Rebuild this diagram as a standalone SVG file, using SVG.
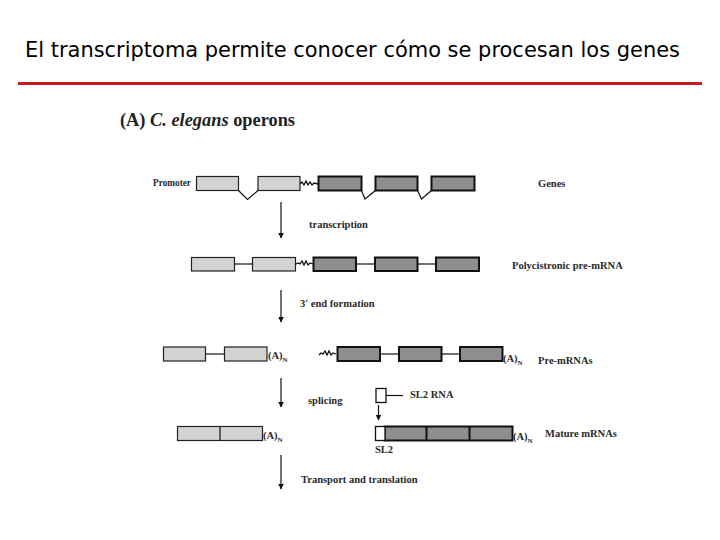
<svg xmlns="http://www.w3.org/2000/svg" width="720" height="540" viewBox="0 0 720 540">
<defs>
<style>
.title{font-family:"DejaVu Sans","Liberation Sans",sans-serif;font-size:22px;fill:#000}
.lab{font-family:"Liberation Serif",serif;font-size:10.5px;font-weight:bold;fill:#2a2a2a}
.head{font-family:"Liberation Serif",serif;font-size:18px;font-weight:bold;fill:#222}
.lt{fill:#d3d3d3;stroke:#222;stroke-width:1.2}
.dk{fill:#8e8e8e;stroke:#111;stroke-width:2}
.wh{fill:#fff;stroke:#111;stroke-width:1.3}
.ln{stroke:#111;stroke-width:1.2;fill:none}
.sq{stroke:#111;stroke-width:1.3;fill:none}
.ar{stroke:#111;stroke-width:1.2;fill:none}
.sub{font-size:7px}
</style>
<marker id="ah" viewBox="0 0 10 10" refX="9" refY="5" markerWidth="6" markerHeight="7" orient="auto" markerUnits="userSpaceOnUse">
<path d="M0,0 L10,5 L0,10 Z" fill="#111"/>
</marker>
</defs>
<rect width="720" height="540" fill="#fff"/>
<g id="header">
<text class="title" x="25" y="57" textLength="655" lengthAdjust="spacingAndGlyphs">El transcriptoma permite conocer cómo se procesan los genes</text>
<line x1="18" y1="83.5" x2="702" y2="83.5" stroke="#c8171e" stroke-width="3"/>
<text class="head" x="120" y="126" textLength="175" lengthAdjust="spacingAndGlyphs">(A) <tspan font-style="italic">C. elegans</tspan> operons</text>
</g>

<g id="connectors">
<line class="ar" x1="281" y1="202" x2="281" y2="238" marker-end="url(#ah)"/>
<line class="ar" x1="281" y1="290" x2="281" y2="322" marker-end="url(#ah)"/>
<line class="ar" x1="281" y1="378" x2="281" y2="407" marker-end="url(#ah)"/>
<line class="ar" x1="378.5" y1="405" x2="378.5" y2="420" marker-end="url(#ah)"/>
<line class="ar" x1="281" y1="455" x2="281" y2="489" marker-end="url(#ah)"/>
</g>

<g id="genes">
<text class="lab" x="153" y="186" font-size="9" textLength="38" lengthAdjust="spacingAndGlyphs">Promoter</text>
<rect class="lt" x="196.5" y="176.5" width="42" height="14"/>
<rect class="lt" x="258" y="176.5" width="42" height="14"/>
<path class="ln" d="M238.5,190.5 L247.5,199.5 L258,190.5"/>
<path class="sq" d="M300,184 l2,-2 l2,3 l2,-4 l2,4 l2,-3 l2,3 l2,-2 l4,1"/>
<rect class="dk" x="318.5" y="176.5" width="43" height="14"/>
<path class="ln" d="M361.5,190.5 L365,199 L375.5,190.5"/>
<rect class="dk" x="375.5" y="176.5" width="42" height="14"/>
<path class="ln" d="M417.5,190.5 L421.5,199 L431.5,190.5"/>
<rect class="dk" x="431.5" y="176.5" width="43" height="14"/>
<text class="lab" x="538" y="187">Genes</text>
<text class="lab" x="309" y="228">transcription</text>
</g>

<g id="polycistronic">
<line class="ln" x1="234" y1="264" x2="252" y2="264"/>
<line class="ln" x1="356" y1="264" x2="375" y2="264"/>
<line class="ln" x1="417" y1="264" x2="436" y2="264"/>
<rect class="lt" x="191.5" y="257.5" width="43" height="13.5"/>
<rect class="lt" x="252.5" y="257.5" width="43" height="13.5"/>
<path class="sq" d="M296,264 l2,-1 l2,1 l2,-3 l2,4 l2,-4 l2,4 l2,-2 l3,1"/>
<rect class="dk" x="313.5" y="257.5" width="42.5" height="13.5"/>
<rect class="dk" x="375" y="257.5" width="42.5" height="13.5"/>
<rect class="dk" x="436" y="257.5" width="43" height="13.5"/>
<text class="lab" x="512" y="269">Polycistronic pre-mRNA</text>
<text class="lab" x="300" y="307">3′ end formation</text>
</g>

<g id="premrnas">
<line class="ln" x1="205" y1="354" x2="224" y2="354"/>
<rect class="lt" x="163.5" y="347" width="42" height="14"/>
<rect class="lt" x="224.5" y="347" width="42.5" height="14"/>
<text class="lab" x="268" y="359">(A)<tspan class="sub" dy="3">N</tspan></text>
<line class="ln" x1="380" y1="354" x2="399" y2="354"/>
<line class="ln" x1="441" y1="354" x2="460" y2="354"/>
<path class="sq" d="M319,355 l2,-2 l2,1 l2,-3 l2,4 l2,-4 l2,4 l2,-2 l3,1"/>
<rect class="dk" x="337.5" y="347" width="42.5" height="14"/>
<rect class="dk" x="399" y="347" width="42.5" height="14"/>
<rect class="dk" x="460" y="347" width="42.5" height="14"/>
<text class="lab" x="503" y="362">(A)<tspan class="sub" dy="3">N</tspan></text>
<text class="lab" x="538" y="364">Pre-mRNAs</text>
</g>

<g id="sl2rna">
<rect class="wh" x="376" y="388.5" width="10" height="14"/>
<line class="ln" x1="386" y1="395.5" x2="403" y2="395.5"/>
<text class="lab" x="410" y="398">SL2 RNA</text>
<text class="lab" x="308" y="404">splicing</text>
</g>

<g id="mature">
<rect class="lt" x="177.5" y="426.5" width="85" height="14"/>
<line class="ln" x1="220" y1="426.5" x2="220" y2="440.5" stroke-width="2"/>
<text class="lab" x="263" y="439">(A)<tspan class="sub" dy="3">N</tspan></text>
<rect class="dk" x="384.5" y="426.5" width="128" height="14"/>
<rect class="wh" x="375.5" y="426.5" width="9.5" height="14" stroke-width="2"/>
<line x1="426.5" y1="426.5" x2="426.5" y2="440.5" stroke="#111" stroke-width="2"/>
<line x1="469.5" y1="426.5" x2="469.5" y2="440.5" stroke="#111" stroke-width="2"/>
<text class="lab" x="513" y="440">(A)<tspan class="sub" dy="3">N</tspan></text>
<text class="lab" x="545" y="437">Mature mRNAs</text>
<text class="lab" x="375" y="453">SL2</text>
<text class="lab" x="301" y="483">Transport and translation</text>
</g>
</svg>
